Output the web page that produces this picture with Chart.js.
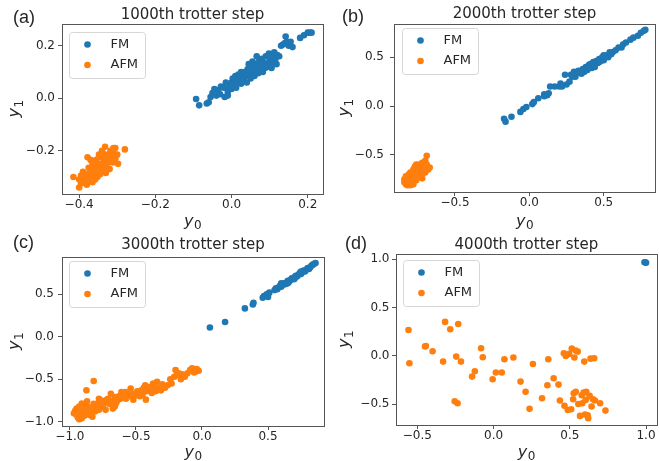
<!DOCTYPE html>
<html>
<head>
<meta charset="utf-8">
<title>trotter steps</title>
<script src="https://cdn.jsdelivr.net/npm/chart.js@4.4.0/dist/chart.umd.min.js"></script>
<style>
  html, body { margin: 0; padding: 0; background: #fff; }
  #fig { position: relative; width: 660px; height: 461px; overflow: hidden; }
  #fig canvas { position: absolute; }
  .tag { position: absolute; font: 18px/18px "Liberation Sans", Arial, sans-serif; color: #262626; }
</style>
</head>
<body>
<div id="fig">
  <canvas id="c1000" width="330" height="230" style="left:0;top:0"></canvas>
  <canvas id="c2000" width="330" height="230" style="left:330px;top:0"></canvas>
  <canvas id="c3000" width="330" height="231" style="left:0;top:230px"></canvas>
  <canvas id="c4000" width="330" height="231" style="left:330px;top:230px"></canvas>
  <div class="tag" style="left:13px;top:8px">(a)</div>
  <div class="tag" style="left:342px;top:7px">(b)</div>
  <div class="tag" style="left:13px;top:233px">(c)</div>
  <div class="tag" style="left:345px;top:234px">(d)</div>
</div>
<script>
// ===== Data =====
const TITLES = ['1000th trotter step', '2000th trotter step', '3000th trotter step', '4000th trotter step'];
const SERIES = ['FM', 'AFM'];
const X_LABEL = ['y', '0'];
const Y_LABEL = ['y', '1'];

const X_TICKS_1000 = [-0.4, -0.2, 0.0, 0.2];
const Y_TICKS_1000 = [-0.2, 0.0, 0.2];
const X_TICKS_2000 = [-0.5, 0.0, 0.5];
const Y_TICKS_2000 = [-0.5, 0.0, 0.5];
const X_TICKS_3000 = [-1.0, -0.5, 0.0, 0.5];
const Y_TICKS_3000 = [-1.0, -0.5, 0.0, 0.5];
const X_TICKS_4000 = [-0.5, 0.0, 0.5, 1.0];
const Y_TICKS_4000 = [-0.5, 0.0, 0.5, 1.0];

// [y0, y1] pairs
const FM_1000 = [
  [-0.093, -0.003], [-0.085, -0.027], [-0.065, -0.02], [-0.06, -0.015], [-0.055, 0.005], [-0.05, 0.02],
  [-0.045, 0.035], [-0.04, 0.01], [-0.035, 0.03], [-0.03, 0.015], [-0.028, 0.045], [-0.02, 0.04],
  [-0.018, 0.005], [-0.015, 0.06], [-0.01, 0.025], [-0.01, 0.01], [-0.005, 0.045], [0.0, 0.06],
  [0.0, 0.035], [0.003, 0.075], [0.005, 0.05], [0.008, 0.065], [0.01, 0.085], [0.012, 0.04],
  [0.015, 0.07], [0.018, 0.09], [0.02, 0.06], [0.022, 0.08], [0.025, 0.1], [0.028, 0.07],
  [0.03, 0.09], [0.032, 0.075], [0.035, 0.1], [0.038, 0.085], [0.04, 0.06], [0.042, 0.11],
  [0.045, 0.09], [0.048, 0.1], [0.05, 0.075], [0.052, 0.12], [0.055, 0.095], [0.058, 0.105],
  [0.06, 0.085], [0.062, 0.13], [0.064, 0.1], [0.066, 0.16], [0.068, 0.12], [0.07, 0.095],
  [0.072, 0.14], [0.075, 0.11], [0.078, 0.125], [0.08, 0.15], [0.082, 0.1], [0.085, 0.135],
  [0.088, 0.115], [0.09, 0.16], [0.092, 0.13], [0.095, 0.12], [0.098, 0.17], [0.1, 0.145],
  [0.102, 0.13], [0.105, 0.115], [0.108, 0.16], [0.11, 0.14], [0.112, 0.175], [0.115, 0.15],
  [0.118, 0.13], [0.12, 0.165], [0.125, 0.16], [0.13, 0.2], [0.135, 0.205], [0.14, 0.21],
  [0.142, 0.235], [0.145, 0.215], [0.15, 0.2], [0.155, 0.215], [0.16, 0.195], [0.18, 0.23],
  [0.19, 0.24], [0.2, 0.25], [0.205, 0.25], [0.21, 0.25], [0.025, 0.055], [0.045, 0.13], [0.055, 0.14]
];
const AFM_1000 = [
  [-0.415, -0.30], [-0.40, -0.34], [-0.40, -0.31], [-0.395, -0.295], [-0.39, -0.32], [-0.39, -0.28],
  [-0.385, -0.305], [-0.38, -0.33], [-0.38, -0.29], [-0.378, -0.225], [-0.375, -0.31], [-0.372, -0.27],
  [-0.37, -0.30], [-0.368, -0.285], [-0.365, -0.32], [-0.365, -0.25], [-0.362, -0.29], [-0.36, -0.265],
  [-0.358, -0.31], [-0.355, -0.235], [-0.355, -0.28], [-0.352, -0.30], [-0.35, -0.255], [-0.348, -0.27],
  [-0.345, -0.225], [-0.345, -0.29], [-0.342, -0.25], [-0.34, -0.28], [-0.338, -0.21], [-0.335, -0.24],
  [-0.335, -0.265], [-0.332, -0.185], [-0.33, -0.23], [-0.33, -0.285], [-0.328, -0.255], [-0.325, -0.215],
  [-0.322, -0.24], [-0.32, -0.27], [-0.318, -0.20], [-0.315, -0.225], [-0.312, -0.245], [-0.31, -0.21],
  [-0.305, -0.19], [-0.305, -0.23], [-0.30, -0.215], [-0.298, -0.25], [-0.28, -0.195], [-0.395, -0.325],
  [-0.375, -0.265], [-0.36, -0.24], [-0.37, -0.235], [-0.385, -0.295], [-0.348, -0.215], [-0.355, -0.30],
  [-0.34, -0.20], [-0.31, -0.19], [-0.325, -0.27]
];
const FM_2000 = [
  [-0.17, -0.13], [-0.16, -0.16], [-0.12, -0.11], [-0.06, -0.06], [-0.04, -0.03], [-0.02, -0.01],
  [0.02, 0.02], [0.03, 0.04], [0.06, 0.08], [0.10, 0.12], [0.10, 0.10], [0.12, 0.11], [0.13, 0.13],
  [0.14, 0.20], [0.17, 0.20], [0.20, 0.20], [0.21, 0.23], [0.22, 0.20], [0.24, 0.32], [0.25, 0.22],
  [0.27, 0.25], [0.28, 0.32], [0.29, 0.30], [0.30, 0.35], [0.31, 0.30], [0.32, 0.34], [0.33, 0.36],
  [0.35, 0.33], [0.36, 0.38], [0.37, 0.35], [0.38, 0.40], [0.39, 0.37], [0.40, 0.42], [0.41, 0.43],
  [0.42, 0.39], [0.43, 0.45], [0.44, 0.43], [0.45, 0.46], [0.46, 0.44], [0.47, 0.48], [0.48, 0.46],
  [0.49, 0.50], [0.50, 0.47], [0.51, 0.50], [0.52, 0.52], [0.53, 0.50], [0.54, 0.55], [0.55, 0.53],
  [0.56, 0.55], [0.58, 0.57], [0.60, 0.60], [0.62, 0.60], [0.63, 0.63], [0.65, 0.65], [0.68, 0.68],
  [0.70, 0.70], [0.73, 0.72], [0.75, 0.75], [0.77, 0.77], [0.78, 0.78], [0.44, 0.40], [0.47, 0.45],
  [0.50, 0.52], [0.35, 0.35], [0.40, 0.39]
];
const AFM_2000 = [
  [-0.84, -0.78], [-0.84, -0.75], [-0.83, -0.80], [-0.83, -0.72], [-0.82, -0.77], [-0.82, -0.74],
  [-0.82, -0.81], [-0.81, -0.70], [-0.81, -0.76], [-0.81, -0.79], [-0.80, -0.68], [-0.80, -0.73],
  [-0.80, -0.77], [-0.79, -0.70], [-0.79, -0.75], [-0.79, -0.80], [-0.78, -0.65], [-0.78, -0.72],
  [-0.78, -0.77], [-0.77, -0.62], [-0.77, -0.68], [-0.77, -0.74], [-0.76, -0.60], [-0.76, -0.66],
  [-0.76, -0.71], [-0.76, -0.76], [-0.75, -0.63], [-0.75, -0.69], [-0.75, -0.73], [-0.74, -0.60],
  [-0.74, -0.65], [-0.74, -0.70], [-0.73, -0.62], [-0.73, -0.67], [-0.73, -0.72], [-0.72, -0.58],
  [-0.72, -0.64], [-0.72, -0.69], [-0.71, -0.60], [-0.71, -0.66], [-0.70, -0.56], [-0.70, -0.63],
  [-0.70, -0.68], [-0.69, -0.51], [-0.69, -0.60], [-0.68, -0.65], [-0.67, -0.63], [-0.72, -0.74],
  [-0.78, -0.80], [-0.80, -0.81]
];
const FM_3000 = [
  [0.06, 0.11], [0.175, 0.175], [0.325, 0.335], [0.385, 0.38], [0.39, 0.40], [0.46, 0.46],
  [0.47, 0.48], [0.49, 0.50], [0.50, 0.47], [0.51, 0.52], [0.55, 0.55], [0.56, 0.57], [0.57, 0.56],
  [0.58, 0.58], [0.59, 0.60], [0.60, 0.59], [0.61, 0.61], [0.62, 0.63], [0.63, 0.62], [0.64, 0.64],
  [0.65, 0.66], [0.66, 0.65], [0.67, 0.67], [0.68, 0.69], [0.69, 0.68], [0.70, 0.70], [0.71, 0.72],
  [0.72, 0.71], [0.73, 0.73], [0.74, 0.75], [0.75, 0.74], [0.76, 0.76], [0.77, 0.78], [0.78, 0.77],
  [0.79, 0.79], [0.80, 0.81], [0.81, 0.80], [0.82, 0.82], [0.83, 0.84], [0.84, 0.85], [0.85, 0.86],
  [0.86, 0.87], [0.60, 0.63], [0.65, 0.63], [0.70, 0.68], [0.75, 0.77]
];
const AFM_3000 = [
  [-0.96, -0.87], [-0.95, -0.92], [-0.95, -0.845], [-0.94, -0.95], [-0.94, -0.89], [-0.93, -0.82],
  [-0.93, -0.97], [-0.92, -0.88], [-0.91, -0.96], [-0.91, -0.785], [-0.90, -0.90], [-0.90, -0.85],
  [-0.89, -0.93], [-0.88, -0.80], [-0.875, -0.63], [-0.87, -0.87], [-0.86, -0.90], [-0.85, -0.83],
  [-0.84, -0.865], [-0.83, -0.94], [-0.82, -0.52], [-0.82, -0.79], [-0.81, -0.88], [-0.80, -0.83],
  [-0.79, -0.785], [-0.78, -0.86], [-0.77, -0.80], [-0.76, -0.75], [-0.75, -0.825], [-0.74, -0.78],
  [-0.73, -0.86], [-0.72, -0.74], [-0.71, -0.73], [-0.70, -0.79], [-0.69, -0.67], [-0.68, -0.76],
  [-0.675, -0.845], [-0.66, -0.71], [-0.65, -0.78], [-0.64, -0.75], [-0.63, -0.70], [-0.62, -0.73],
  [-0.61, -0.65], [-0.60, -0.72], [-0.59, -0.69], [-0.575, -0.73], [-0.56, -0.66], [-0.55, -0.70],
  [-0.54, -0.61], [-0.53, -0.67], [-0.52, -0.74], [-0.50, -0.69], [-0.49, -0.64], [-0.48, -0.66],
  [-0.46, -0.63], [-0.45, -0.68], [-0.44, -0.60], [-0.425, -0.74], [-0.42, -0.64], [-0.40, -0.59],
  [-0.39, -0.62], [-0.38, -0.66], [-0.37, -0.55], [-0.36, -0.57], [-0.35, -0.61], [-0.34, -0.53],
  [-0.33, -0.60], [-0.31, -0.63], [-0.30, -0.56], [-0.28, -0.60], [-0.26, -0.57], [-0.24, -0.50],
  [-0.23, -0.55], [-0.21, -0.47], [-0.20, -0.39], [-0.19, -0.45], [-0.175, -0.43], [-0.16, -0.50],
  [-0.15, -0.44], [-0.13, -0.47], [-0.11, -0.43], [-0.09, -0.39], [-0.075, -0.37], [-0.06, -0.42],
  [-0.05, -0.41], [-0.04, -0.38], [-0.025, -0.40], [-0.97, -0.90], [-0.92, -0.84], [-0.87, -0.76],
  [-0.85, -0.92], [-0.78, -0.73], [-0.66, -0.82], [-0.58, -0.65], [-0.47, -0.70], [-0.43, -0.57],
  [-0.35, -0.64]
];
const FM_4000 = [[0.995, 0.97], [1.0, 0.965], [0.99, 0.97]];
const AFM_4000 = [
  [-0.558, 0.269], [-0.552, -0.076], [-0.444, 0.103], [-0.45, 0.097], [-0.40, 0.048], [-0.331, -0.059],
  [-0.318, 0.352], [-0.284, 0.276], [-0.232, 0.331], [-0.245, -0.007], [-0.214, -0.059], [-0.255, -0.469],
  [-0.236, -0.49], [-0.141, -0.214], [-0.123, -0.159], [-0.082, 0.079], [-0.071, -0.014], [-0.006, -0.241],
  [0.015, -0.172], [0.054, -0.172], [0.071, -0.034], [0.13, -0.017], [0.177, -0.266], [0.21, -0.372],
  [0.236, -0.548], [0.258, -0.083], [0.318, -0.438], [0.353, -0.303], [0.359, -0.034], [0.394, -0.231],
  [0.426, -0.297], [0.435, -0.462], [0.461, 0.028], [0.465, -0.517], [0.474, 0.0], [0.487, -0.559],
  [0.496, 0.021], [0.509, -0.552], [0.513, 0.076], [0.522, -0.448], [0.526, -0.386], [0.53, -0.017],
  [0.539, 0.055], [0.539, -0.372], [0.552, 0.045], [0.556, -0.497], [0.567, -0.621], [0.578, -0.407],
  [0.582, -0.49], [0.591, -0.38], [0.595, -0.059], [0.60, -0.607], [0.604, -0.455], [0.608, -0.372],
  [0.617, -0.614], [0.621, -0.645], [0.63, -0.414], [0.636, -0.028], [0.643, -0.524], [0.652, -0.448],
  [0.66, -0.024], [0.665, -0.462], [0.699, -0.49], [0.734, -0.566]
];

// ===== Styles =====
const FONT = '"DejaVu Sans", Verdana, sans-serif';
const TEXT = '#262626';
const SPINE = '#555555';
const COLORS = ['#1f77b4', '#ff7f0e'];

// ===== Panels (placement of each chart area inside its canvas) =====
const PANELS = [
  { id: 'c1000', title: TITLES[0], fm: FM_1000, afm: AFM_1000, xTicks: X_TICKS_1000, yTicks: Y_TICKS_1000,
    xRange: [-0.445, 0.24], yRange: [-0.365, 0.283], area: { l: 62, r: 323, t: 24, b: 194 },
    titleY: 15, yPad: 3, legend: { dx: 7, dy: 8 } },
  { id: 'c2000', title: TITLES[1], fm: FM_2000, afm: AFM_2000, xTicks: X_TICKS_2000, yTicks: Y_TICKS_2000,
    xRange: [-0.91, 0.845], yRange: [-0.88, 0.84], area: { l: 64, r: 325, t: 24, b: 192 },
    titleY: 14.5, yPad: 6, legend: { dx: 8, dy: 4 } },
  { id: 'c3000', title: TITLES[2], fm: FM_3000, afm: AFM_3000, xTicks: X_TICKS_3000, yTicks: Y_TICKS_3000,
    xRange: [-1.06, 0.924], yRange: [-1.05, 0.94], area: { l: 62, r: 324, t: 27, b: 196 },
    titleY: 15.5, yPad: 4, legend: { dx: 7, dy: 4 } },
  { id: 'c4000', title: TITLES[3], fm: FM_4000, afm: AFM_4000, xTicks: X_TICKS_4000, yTicks: Y_TICKS_4000,
    xRange: [-0.64, 1.07], yRange: [-0.715, 1.055], area: { l: 66, r: 329, t: 24, b: 195 },
    titleY: 15, yPad: 2.5, legend: { dx: 7, dy: 6 } }
];

function fmtTick(v) {
  return (v < 0 ? '\u2212' : '') + Math.abs(v).toFixed(1);
}

// full box around the axes (matplotlib spines)
const frame = {
  id: 'frame',
  afterDatasetsDraw(chart) {
    const { ctx, chartArea: a } = chart;
    ctx.save();
    ctx.strokeStyle = SPINE;
    ctx.lineWidth = 1;
    ctx.strokeRect(Math.round(a.left) + 0.5, Math.round(a.top) + 0.5,
      Math.round(a.right - a.left), Math.round(a.bottom - a.top));
    ctx.restore();
  }
};

// legend drawn inside the upper left corner of the axes
const insetLegend = {
  id: 'insetLegend',
  afterDraw(chart, args, opts) {
    const { ctx, chartArea } = chart;
    const x = Math.round(chartArea.left + opts.dx) + 0.5;
    const y = Math.round(chartArea.top + opts.dy) + 0.5;
    const w = 76, h = 46, r = 3;
    ctx.save();
    ctx.beginPath();
    ctx.moveTo(x + r, y);
    ctx.arcTo(x + w, y, x + w, y + h, r);
    ctx.arcTo(x + w, y + h, x, y + h, r);
    ctx.arcTo(x, y + h, x, y, r);
    ctx.arcTo(x, y, x + w, y, r);
    ctx.closePath();
    ctx.fillStyle = 'rgba(255,255,255,0.85)';
    ctx.fill();
    ctx.strokeStyle = '#d6d6d6';
    ctx.lineWidth = 1;
    ctx.stroke();
    ctx.font = '13px ' + FONT;
    ctx.textBaseline = 'middle';
    chart.data.datasets.forEach((ds, i) => {
      const cy = y + 12 + i * 20.5;
      ctx.fillStyle = ds.backgroundColor;
      ctx.beginPath();
      ctx.arc(x + 18, cy, 3.3, 0, Math.PI * 2);
      ctx.fill();
      ctx.fillStyle = TEXT;
      ctx.fillText(ds.label, x + 41, cy);
    });
    ctx.restore();
  }
};

// italic symbol with an upright subscript, like matplotlib mathtext
function drawSubLabel(ctx, parts, cx, baseY) {
  ctx.font = 'italic 16px ' + FONT;
  const w1 = ctx.measureText(parts[0]).width;
  ctx.font = '12px ' + FONT;
  const w2 = ctx.measureText(parts[1]).width;
  const x0 = cx - (w1 + w2) / 2;
  ctx.textAlign = 'left';
  ctx.textBaseline = 'alphabetic';
  ctx.font = 'italic 16px ' + FONT;
  ctx.fillText(parts[0], x0, baseY);
  ctx.font = '12px ' + FONT;
  ctx.fillText(parts[1], x0 + w1 + 0.5, baseY + 3.5);
}

const axisLabels = {
  id: 'axisLabels',
  afterDraw(chart) {
    const { ctx, chartArea: a, height } = chart;
    ctx.save();
    ctx.fillStyle = TEXT;
    drawSubLabel(ctx, X_LABEL, (a.left + a.right) / 2, height - 4.5);
    ctx.translate(19, (a.top + a.bottom) / 2);
    ctx.rotate(-Math.PI / 2);
    drawSubLabel(ctx, Y_LABEL, 0, 0);
    ctx.restore();
  }
};

function buildChart(p) {
  const canvas = document.getElementById(p.id);
  const W = canvas.width, H = canvas.height;
  const a = p.area;

  new Chart(canvas, {
    type: 'scatter',
    data: {
      datasets: [
        { label: SERIES[0], data: p.fm.map(([x, y]) => ({ x, y })), backgroundColor: COLORS[0], order: 1 },
        { label: SERIES[1], data: p.afm.map(([x, y]) => ({ x, y })), backgroundColor: COLORS[1], order: 0 }
      ]
    },
    options: {
      responsive: false,
      animation: false,
      events: [],
      devicePixelRatio: 1,
      layout: { padding: { left: 0, right: W - a.r, top: 0, bottom: 0 } },
      elements: { point: { radius: 3.3, borderWidth: 0, hoverRadius: 3.3 } },
      scales: {
        x: {
          type: 'linear',
          min: p.xRange[0],
          max: p.xRange[1],
          afterBuildTicks: s => { s.ticks = p.xTicks.map(v => ({ value: v })); },
          afterFit: s => { s.height = H - a.b; },
          border: { display: false },
          grid: { drawOnChartArea: false, drawTicks: true, tickLength: 4, color: SPINE },
          ticks: { callback: fmtTick, color: TEXT, padding: 0, maxRotation: 0, autoSkip: false,
                   font: { family: FONT, size: 12 } }
        },
        y: {
          type: 'linear',
          min: p.yRange[0],
          max: p.yRange[1],
          afterBuildTicks: s => { s.ticks = p.yTicks.map(v => ({ value: v })); },
          afterFit: s => { s.width = a.l; },
          border: { display: false },
          grid: { drawOnChartArea: false, drawTicks: true, tickLength: 4, color: SPINE },
          ticks: { callback: fmtTick, color: TEXT, padding: p.yPad, autoSkip: false,
                   font: { family: FONT, size: 12 } }
        }
      },
      plugins: {
        legend: { display: false },
        tooltip: { enabled: false },
        title: {
          display: true,
          text: p.title,
          fullSize: false,
          color: TEXT,
          font: { family: FONT, size: 15, weight: 'normal' },
          padding: { top: p.titleY - 9, bottom: a.t - p.titleY - 9 }
        },
        insetLegend: p.legend
      }
    },
    plugins: [frame, insetLegend, axisLabels]
  });
}

PANELS.forEach(buildChart);
</script>
</body>
</html>
